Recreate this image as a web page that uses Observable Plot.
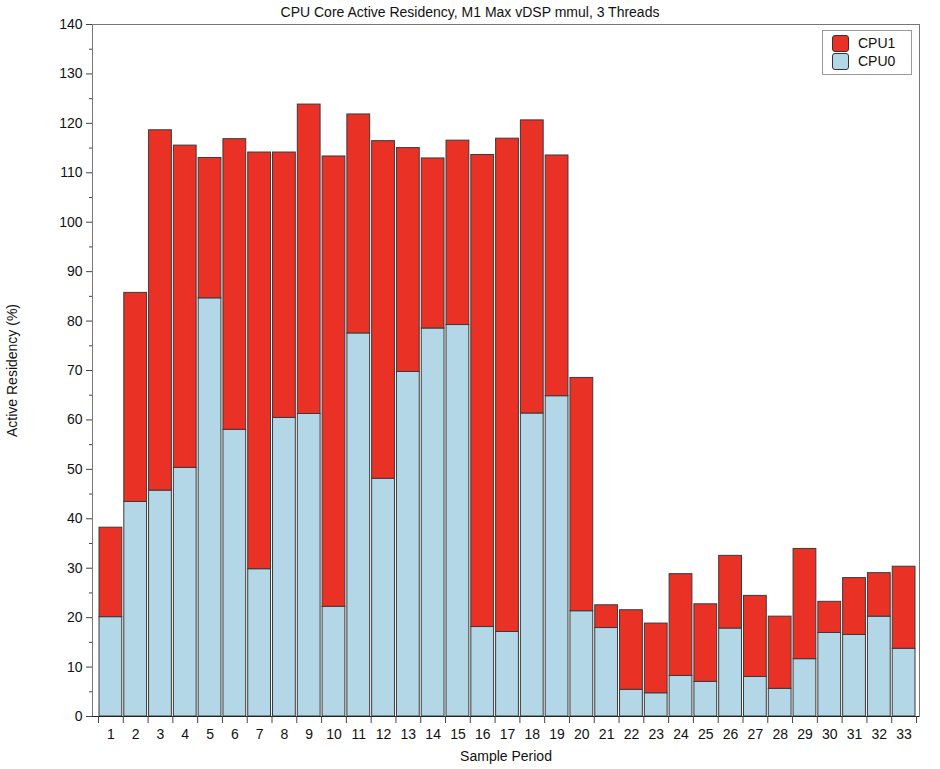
<!DOCTYPE html>
<html>
<head>
<meta charset="utf-8">
<script src="https://cdn.jsdelivr.net/npm/d3@7"></script>
<script src="https://cdn.jsdelivr.net/npm/@observablehq/plot@0.6"></script>
<style>
  body { margin: 0; background: white; font-family: "Liberation Sans", Arial, sans-serif; }
  #wrap { position: relative; width: 940px; }
  #title { height: 20px; line-height: 24px; text-align: center; font-size: 14px; color: #111; }
  #legend { position: absolute; left: 822px; top: 30px; width: 90px; height: 45px; border: 1px solid #999; background: white; box-sizing: border-box; font-size: 14px; }
  .item { position: absolute; left: 9px; height: 18px; line-height: 18px; }
  .sw { position: absolute; left: 0; top: 0; width: 15px; height: 15px; border: 1px solid #333; border-radius: 3px; }
  .lab { position: absolute; left: 26px; top: -1px; color: #111; }
</style>
</head>
<body>
<div id="wrap">
  <div id="title">CPU Core Active Residency, M1 Max vDSP mmul, 3 Threads</div>
  <div id="chart"></div>
  <div id="legend"></div>
</div>
<script>
const periods = [1,2,3,4,5,6,7,8,9,10,11,12,13,14,15,16,17,18,19,20,21,22,23,24,25,26,27,28,29,30,31,32,33];
const cpu0 = [20.1,43.4,45.7,50.3,84.6,58.0,29.8,60.4,61.2,22.2,77.5,48.1,69.7,78.5,79.2,18.1,17.1,61.3,64.8,21.3,17.9,5.4,4.7,8.2,7.0,17.8,8.0,5.6,11.6,16.9,16.5,20.2,13.7];
const cpu1 = [18.1,42.3,72.9,65.2,28.4,58.8,84.3,53.7,62.6,91.1,44.3,68.3,45.3,34.4,37.3,95.5,99.8,59.3,48.7,47.2,4.6,16.1,14.1,20.6,15.7,14.7,16.4,14.6,22.3,6.3,11.5,8.8,16.6];
const seriesNames = ["CPU0", "CPU1"];
const seriesColors = ["#b4d7e8", "#ea3126"];
const legendOrder = ["CPU1", "CPU0"];
const yTicks = [0,10,20,30,40,50,60,70,80,90,100,110,120,130,140];
const yMinor = [5,15,25,35,45,55,65,75,85,95,105,115,125,135];

const rows = [];
periods.forEach((p, i) => {
  rows.push({period: p, series: "CPU0", y1: 0, y2: cpu0[i]});
  rows.push({period: p, series: "CPU1", y1: cpu0[i], y2: cpu0[i] + cpu1[i]});
});
const boundaries = [0].concat(periods).map(p => p + 0.5);

const chart = Plot.plot({
  width: 940,
  height: 749,
  marginTop: 4,
  marginLeft: 92,
  marginRight: 21,
  marginBottom: 53,
  style: {fontFamily: "'Liberation Sans', Arial, sans-serif", fontSize: "14px", color: "#111", overflow: "visible"},
  x: {type: "linear", domain: [0.5, 33.5], insetLeft: 6, insetRight: 3},
  y: {domain: [0, 140]},
  color: {domain: seriesNames, range: seriesColors},
  marks: [
    Plot.rect(rows, {
      x1: d => d.period - 0.5, x2: d => d.period + 0.5,
      y1: "y1", y2: "y2", fill: "series",
      insetLeft: 1, insetRight: 1,
      stroke: "#3a3a3a", strokeWidth: 1
    }),
    Plot.frame({stroke: "#777"}),
    Plot.ruleY([0], {stroke: "#222"}),
    Plot.axisY({ticks: yTicks, tickSize: 6, tickPadding: 4, label: null, stroke: "#444"}),
    Plot.axisY({ticks: yMinor, tickSize: 3, tickFormat: () => "", label: null, stroke: "#444"}),
    Plot.axisY({ticks: [], label: "Active Residency (%)", labelAnchor: "center", labelArrow: "none", labelOffset: 85}),
    Plot.axisX({ticks: boundaries, tickSize: 7, tickFormat: () => "", label: null, stroke: "#444"}),
    Plot.axisX({ticks: periods, tickSize: 0, tickPadding: 13, tickFormat: d => String(d), label: null}),
    Plot.axisX({ticks: [], label: "Sample Period", labelAnchor: "center", labelArrow: "none", labelOffset: 44})
  ]
});
chart.querySelectorAll("text").forEach(t => t.setAttribute("fill", "#111"));
document.getElementById("chart").appendChild(chart);

const legend = document.getElementById("legend");
legendOrder.forEach((name, i) => {
  const item = document.createElement("div");
  item.className = "item";
  item.style.top = (4 + i * 18) + "px";
  const sw = document.createElement("div");
  sw.className = "sw";
  sw.style.background = seriesColors[seriesNames.indexOf(name)];
  const lab = document.createElement("div");
  lab.className = "lab";
  lab.textContent = name;
  item.appendChild(sw);
  item.appendChild(lab);
  legend.appendChild(item);
});
</script>
</body>
</html>
